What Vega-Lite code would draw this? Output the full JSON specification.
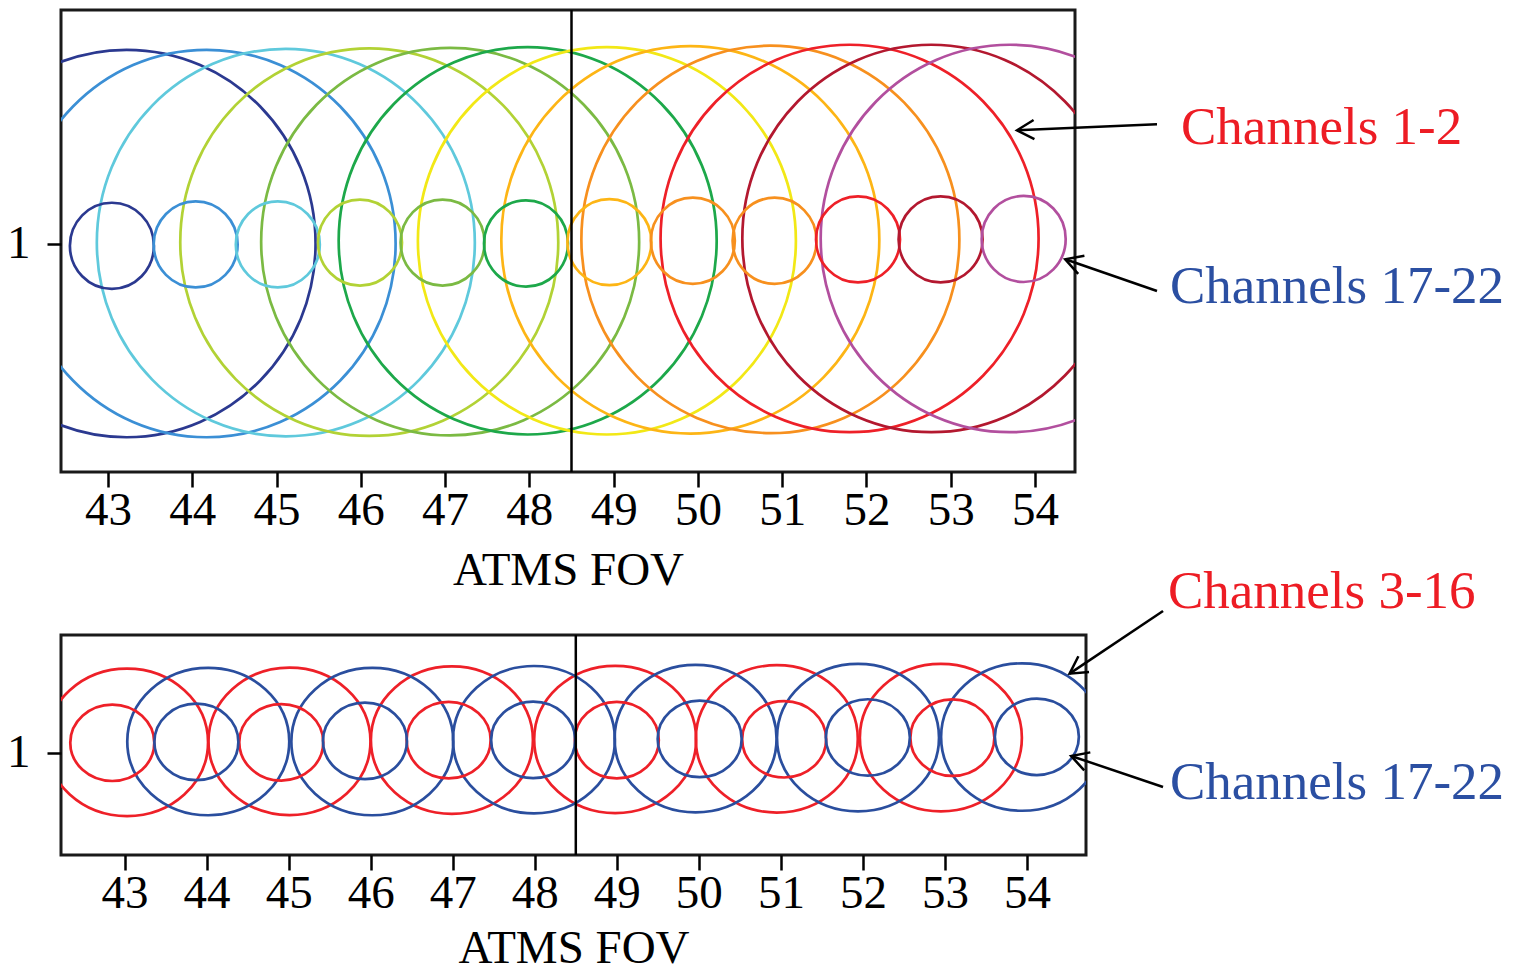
{
  "$schema": "https://vega.github.io/schema/vega-lite/v6.json",
  "padding": {"left": 5, "top": 7, "right": 0, "bottom": 0},
  "background": "white",
  "datasets": {
    "topBeams": [
      {"fov": 43, "beam": "Channels 1-2", "colour": "navy", "x": 43.22, "y": 1.001},
      {"fov": 44, "beam": "Channels 1-2", "colour": "blue", "x": 44.17, "y": 1.001},
      {"fov": 45, "beam": "Channels 1-2", "colour": "cyan", "x": 45.11, "y": 1.003},
      {"fov": 46, "beam": "Channels 1-2", "colour": "yellow-green", "x": 46.10, "y": 1.004},
      {"fov": 47, "beam": "Channels 1-2", "colour": "olive", "x": 47.06, "y": 1.005},
      {"fov": 48, "beam": "Channels 1-2", "colour": "green", "x": 47.98, "y": 1.007},
      {"fov": 49, "beam": "Channels 1-2", "colour": "yellow", "x": 48.92, "y": 1.007},
      {"fov": 50, "beam": "Channels 1-2", "colour": "amber", "x": 49.91, "y": 1.009},
      {"fov": 51, "beam": "Channels 1-2", "colour": "orange", "x": 50.86, "y": 1.010},
      {"fov": 52, "beam": "Channels 1-2", "colour": "red", "x": 51.80, "y": 1.012},
      {"fov": 53, "beam": "Channels 1-2", "colour": "dark red", "x": 52.77, "y": 1.012},
      {"fov": 54, "beam": "Channels 1-2", "colour": "magenta", "x": 53.70, "y": 1.012},
      {"fov": 43, "beam": "Channels 17-22", "colour": "navy", "x": 43.046, "y": 0.996},
      {"fov": 44, "beam": "Channels 17-22", "colour": "blue", "x": 44.04, "y": 0.999},
      {"fov": 45, "beam": "Channels 17-22", "colour": "cyan", "x": 45.015, "y": 0.999},
      {"fov": 46, "beam": "Channels 17-22", "colour": "yellow-green", "x": 45.99, "y": 1.003},
      {"fov": 47, "beam": "Channels 17-22", "colour": "olive", "x": 46.97, "y": 1.003},
      {"fov": 48, "beam": "Channels 17-22", "colour": "green", "x": 47.96, "y": 1.001},
      {"fov": 49, "beam": "Channels 17-22", "colour": "amber", "x": 48.95, "y": 1.004},
      {"fov": 50, "beam": "Channels 17-22", "colour": "orange", "x": 49.94, "y": 1.007},
      {"fov": 51, "beam": "Channels 17-22", "colour": "orange", "x": 50.91, "y": 1.007},
      {"fov": 52, "beam": "Channels 17-22", "colour": "red", "x": 51.90, "y": 1.010},
      {"fov": 53, "beam": "Channels 17-22", "colour": "dark red", "x": 52.88, "y": 1.010},
      {"fov": 54, "beam": "Channels 17-22", "colour": "magenta", "x": 53.866, "y": 1.011}
    ],
    "bottomBeams": [
      {"fov": 43, "beam": "Channels 3-16", "set": "odd", "x": 43.03, "y": 1.052},
      {"fov": 45, "beam": "Channels 3-16", "set": "odd", "x": 45.01, "y": 1.057},
      {"fov": 47, "beam": "Channels 3-16", "set": "odd", "x": 46.99, "y": 1.063},
      {"fov": 49, "beam": "Channels 3-16", "set": "odd", "x": 48.98, "y": 1.066},
      {"fov": 51, "beam": "Channels 3-16", "set": "odd", "x": 50.95, "y": 1.069},
      {"fov": 53, "beam": "Channels 3-16", "set": "odd", "x": 52.95, "y": 1.075},
      {"fov": 44, "beam": "Channels 3-16", "set": "even", "x": 44.02, "y": 1.056},
      {"fov": 46, "beam": "Channels 3-16", "set": "even", "x": 46.02, "y": 1.056},
      {"fov": 48, "beam": "Channels 3-16", "set": "even", "x": 47.99, "y": 1.065},
      {"fov": 50, "beam": "Channels 3-16", "set": "even", "x": 49.96, "y": 1.070},
      {"fov": 52, "beam": "Channels 3-16", "set": "even", "x": 51.94, "y": 1.075},
      {"fov": 54, "beam": "Channels 3-16", "set": "even", "x": 53.94, "y": 1.078},
      {"fov": 43, "beam": "Channels 17-22", "set": "odd", "x": 42.85, "y": 1.050},
      {"fov": 45, "beam": "Channels 17-22", "set": "odd", "x": 44.91, "y": 1.052},
      {"fov": 47, "beam": "Channels 17-22", "set": "odd", "x": 46.95, "y": 1.063},
      {"fov": 49, "beam": "Channels 17-22", "set": "odd", "x": 49.00, "y": 1.063},
      {"fov": 51, "beam": "Channels 17-22", "set": "odd", "x": 51.04, "y": 1.067},
      {"fov": 53, "beam": "Channels 17-22", "set": "odd", "x": 53.09, "y": 1.075},
      {"fov": 44, "beam": "Channels 17-22", "set": "even", "x": 43.875, "y": 1.054},
      {"fov": 46, "beam": "Channels 17-22", "set": "even", "x": 45.93, "y": 1.059},
      {"fov": 48, "beam": "Channels 17-22", "set": "even", "x": 47.98, "y": 1.064},
      {"fov": 50, "beam": "Channels 17-22", "set": "even", "x": 50.01, "y": 1.069},
      {"fov": 52, "beam": "Channels 17-22", "set": "even", "x": 52.06, "y": 1.076},
      {"fov": 54, "beam": "Channels 17-22", "set": "even", "x": 54.12, "y": 1.079}
    ],
    "divider": [{"x": 48.5}],
    "topNotes": [
      {"label": "Channels 1-2", "x": 55.733, "y": 1.2193, "sx": 55.448, "sy": 1.2624, "tx": 53.787, "ty": 1.2493},
      {"label": "Channels 17-22", "x": 55.602, "y": 0.8706, "sx": 55.448, "sy": 0.8969, "tx": 54.359, "ty": 0.9665}
    ],
    "bottomNotes": [
      {"label": "Channels 3-16", "x": 55.718, "y": 1.712, "sx": 55.658, "sy": 1.6958, "tx": 54.519, "ty": 1.3886},
      {"label": "Channels 17-22", "x": 55.742, "y": 0.7746, "sx": 55.658, "sy": 0.8334, "tx": 54.538, "ty": 0.9853}
    ]
  },
  "vconcat": [
    {
      "width": 1014,
      "height": 462,
      "layer": [
        {
          "data": {"name": "topBeams"},
          "transform": [{"filter": "datum.beam === 'Channels 1-2'"}],
          "mark": {"type": "point", "shape": "M1,0C1,0.5661,0.5523,1.025,0,1.025C-0.5523,1.025,-1,0.5661,-1,0C-1,-0.5661,-0.5523,-1.025,0,-1.025C0.5523,-1.025,1,-0.5661,1,0Z", "filled": false, "size": 142884, "strokeWidth": 2.7, "opacity": 1, "clip": true},
          "encoding": {
            "x": {"field": "x", "type": "quantitative", "scale": {"domain": [42.442, 54.475], "nice": false, "zero": false}, "axis": {"values": [43, 44, 45, 46, 47, 48, 49, 50, 51, 52, 53, 54], "format": "d", "title": "ATMS FOV"}},
            "y": {"field": "y", "type": "quantitative", "scale": {"domain": [0.5, 1.513], "nice": false, "zero": false}, "axis": {"values": [1], "format": "d", "title": null}},
            "color": {"field": "colour", "type": "nominal", "legend": null, "scale": {"domain": ["navy", "blue", "cyan", "yellow-green", "olive", "green", "yellow", "amber", "orange", "red", "dark red", "magenta"], "range": ["#2B3990", "#3B8FD5", "#5FC9DC", "#B2D235", "#7BBA43", "#1DA84A", "#F2E816", "#FDB515", "#F7901E", "#EE2028", "#B3182F", "#B24F9E"]}}
          }
        },
        {
          "data": {"name": "topBeams"},
          "transform": [{"filter": "datum.beam === 'Channels 17-22'"}],
          "mark": {"type": "point", "shape": "M1,0C1,0.5661,0.5523,1.025,0,1.025C-0.5523,1.025,-1,0.5661,-1,0C-1,-0.5661,-0.5523,-1.025,0,-1.025C0.5523,-1.025,1,-0.5661,1,0Z", "filled": false, "size": 7056, "strokeWidth": 2.7, "opacity": 1, "clip": true},
          "encoding": {
            "x": {"field": "x", "type": "quantitative"},
            "y": {"field": "y", "type": "quantitative"},
            "color": {"field": "colour", "type": "nominal", "legend": null}
          }
        },
        {
          "data": {"name": "divider"},
          "mark": {"type": "rule", "color": "#000000", "strokeWidth": 2.5},
          "encoding": {"x": {"field": "x", "type": "quantitative"}}
        },
        {
          "data": {"name": "topNotes"},
          "mark": {"type": "rule", "color": "#000000", "strokeWidth": 2.5},
          "encoding": {
            "x": {"field": "sx", "type": "quantitative"},
            "y": {"field": "sy", "type": "quantitative"},
            "x2": {"field": "tx"},
            "y2": {"field": "ty"}
          }
        },
        {
          "data": {"name": "topNotes"},
          "transform": [{"filter": "datum.label === 'Channels 1-2'"}],
          "mark": {"type": "point", "shape": "M-1,-0.56L0,0L-1,0.56", "filled": false, "size": 1156, "strokeWidth": 2.5, "color": "#000000", "opacity": 1, "angle": 177.5},
          "encoding": {
            "x": {"field": "tx", "type": "quantitative"},
            "y": {"field": "ty", "type": "quantitative"}
          }
        },
        {
          "data": {"name": "topNotes"},
          "transform": [{"filter": "datum.label === 'Channels 17-22'"}],
          "mark": {"type": "point", "shape": "M-1,-0.56L0,0L-1,0.56", "filled": false, "size": 1156, "strokeWidth": 2.5, "color": "#000000", "opacity": 1, "angle": 199.1},
          "encoding": {
            "x": {"field": "tx", "type": "quantitative"},
            "y": {"field": "ty", "type": "quantitative"}
          }
        },
        {
          "data": {"name": "topNotes"},
          "transform": [{"filter": "datum.label === 'Channels 1-2'"}],
          "mark": {"type": "text", "font": "Liberation Serif", "fontSize": 53, "align": "left", "baseline": "alphabetic", "color": "#ED1C24"},
          "encoding": {
            "x": {"field": "x", "type": "quantitative"},
            "y": {"field": "y", "type": "quantitative"},
            "text": {"field": "label"}
          }
        },
        {
          "data": {"name": "topNotes"},
          "transform": [{"filter": "datum.label === 'Channels 17-22'"}],
          "mark": {"type": "text", "font": "Liberation Serif", "fontSize": 53, "align": "left", "baseline": "alphabetic", "color": "#2B4FA2"},
          "encoding": {
            "x": {"field": "x", "type": "quantitative"},
            "y": {"field": "y", "type": "quantitative"},
            "text": {"field": "label"}
          }
        }
      ]
    },
    {
      "width": 1025,
      "height": 220,
      "layer": [
        {
          "data": {"name": "bottomBeams"},
          "transform": [{"filter": "datum.beam === 'Channels 3-16'"}],
          "mark": {"type": "point", "shape": "M1,0C1,0.5026,0.5523,0.91,0,0.91C-0.5523,0.91,-1,0.5026,-1,0C-1,-0.5026,-0.5523,-0.91,0,-0.91C0.5523,-0.91,1,-0.5026,1,0Z", "filled": false, "size": 26244, "strokeWidth": 2.7, "opacity": 1, "clip": true},
          "encoding": {
            "x": {"field": "x", "type": "quantitative", "scale": {"domain": [42.225, 54.719], "nice": false, "zero": false}, "axis": {"values": [43, 44, 45, 46, 47, 48, 49, 50, 51, 52, 53, 54], "format": "d", "title": "ATMS FOV", "titlePadding": 9}},
            "y": {"field": "y", "type": "quantitative", "scale": {"domain": [0.5, 1.578], "nice": false, "zero": false}, "axis": {"values": [1], "format": "d", "title": null}},
            "color": {"field": "set", "type": "nominal", "legend": null, "scale": {"domain": ["odd", "even"], "range": ["#EE2028", "#2A4E9E"]}}
          }
        },
        {
          "data": {"name": "bottomBeams"},
          "transform": [{"filter": "datum.beam === 'Channels 17-22'"}],
          "mark": {"type": "point", "shape": "M1,0C1,0.5026,0.5523,0.91,0,0.91C-0.5523,0.91,-1,0.5026,-1,0C-1,-0.5026,-0.5523,-0.91,0,-0.91C0.5523,-0.91,1,-0.5026,1,0Z", "filled": false, "size": 7056, "strokeWidth": 2.7, "opacity": 1, "clip": true},
          "encoding": {
            "x": {"field": "x", "type": "quantitative"},
            "y": {"field": "y", "type": "quantitative"},
            "color": {"field": "set", "type": "nominal", "legend": null}
          }
        },
        {
          "data": {"name": "divider"},
          "mark": {"type": "rule", "color": "#000000", "strokeWidth": 2.5},
          "encoding": {"x": {"field": "x", "type": "quantitative"}}
        },
        {
          "data": {"name": "bottomNotes"},
          "mark": {"type": "rule", "color": "#000000", "strokeWidth": 2.5},
          "encoding": {
            "x": {"field": "sx", "type": "quantitative"},
            "y": {"field": "sy", "type": "quantitative"},
            "x2": {"field": "tx"},
            "y2": {"field": "ty"}
          }
        },
        {
          "data": {"name": "bottomNotes"},
          "transform": [{"filter": "datum.label === 'Channels 3-16'"}],
          "mark": {"type": "point", "shape": "M-1,-0.56L0,0L-1,0.56", "filled": false, "size": 1156, "strokeWidth": 2.5, "color": "#000000", "opacity": 1, "angle": 146.1},
          "encoding": {
            "x": {"field": "tx", "type": "quantitative"},
            "y": {"field": "ty", "type": "quantitative"}
          }
        },
        {
          "data": {"name": "bottomNotes"},
          "transform": [{"filter": "datum.label === 'Channels 17-22'"}],
          "mark": {"type": "point", "shape": "M-1,-0.56L0,0L-1,0.56", "filled": false, "size": 1156, "strokeWidth": 2.5, "color": "#000000", "opacity": 1, "angle": 198.7},
          "encoding": {
            "x": {"field": "tx", "type": "quantitative"},
            "y": {"field": "ty", "type": "quantitative"}
          }
        },
        {
          "data": {"name": "bottomNotes"},
          "transform": [{"filter": "datum.label === 'Channels 3-16'"}],
          "mark": {"type": "text", "font": "Liberation Serif", "fontSize": 53, "align": "left", "baseline": "alphabetic", "color": "#ED1C24"},
          "encoding": {
            "x": {"field": "x", "type": "quantitative"},
            "y": {"field": "y", "type": "quantitative"},
            "text": {"field": "label"}
          }
        },
        {
          "data": {"name": "bottomNotes"},
          "transform": [{"filter": "datum.label === 'Channels 17-22'"}],
          "mark": {"type": "text", "font": "Liberation Serif", "fontSize": 53, "align": "left", "baseline": "alphabetic", "color": "#2B4FA2"},
          "encoding": {
            "x": {"field": "x", "type": "quantitative"},
            "y": {"field": "y", "type": "quantitative"},
            "text": {"field": "label"}
          }
        }
      ]
    }
  ],
  "spacing": 163,
  "bounds": "flush",
  "resolve": {"scale": {"color": "independent"}},
  "config": {
    "font": "Liberation Serif",
    "view": {"stroke": "#1a1a1a", "strokeWidth": 3},
    "axis": {"grid": false, "domain": false, "ticks": true, "tickColor": "#000000", "tickWidth": 2.5, "labelFont": "Liberation Serif", "labelFontSize": 47, "labelColor": "#000000", "labelOverlap": false, "titleFont": "Liberation Serif", "titleFontSize": 47, "titleFontWeight": "normal", "titleColor": "#000000"},
    "axisX": {"tickSize": 15, "labelPadding": 0, "titlePadding": 14, "labelAngle": 0, "labelFlush": false},
    "axisY": {"tickSize": 14, "labelPadding": 17, "labelBaseline": "middle"}
  }
}
